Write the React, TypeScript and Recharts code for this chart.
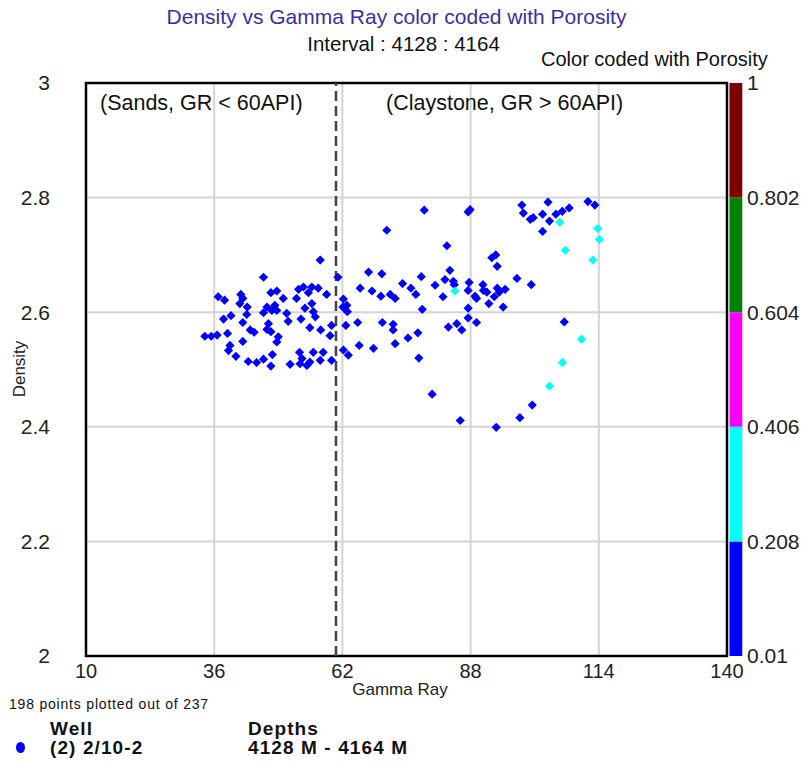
import React from "react";
import {
  ScatterChart,
  Scatter,
  XAxis,
  YAxis,
  CartesianGrid,
  ReferenceLine,
  ReferenceArea,
} from "recharts";

// Gamma Ray (API) and Density (g/cc), low porosity class
const lowPorGR = [
  34.1, 35.4, 36.6, 36.8, 38.1, 37.9, 39.4, 38.7, 39.2, 38.9, 40.4, 41.4, 41.8,
  41.2, 42.7, 42.6, 41.8, 41.8, 43.3, 44.1, 42.9, 44.6, 46.0, 46.0, 47.5, 46.7,
  46.0, 47.7, 47.0, 46.7, 47.5, 47.8, 47.5, 57.5, 61.1, 48.7, 53.1, 54.1, 55.8,
  57.1, 55.1, 52.7, 50.0, 58.8, 55.8, 54.4, 56.1, 56.5, 48.3, 48.7, 50.7, 51.0,
  53.6, 55.4, 57.6, 59.8, 59.5, 49.0, 48.7, 62.2, 62.1, 62.9, 63.0, 62.7, 62.2,
  63.2, 53.3, 56.1, 58.1, 53.8, 55.4, 53.4, 51.4, 54.8, 57.5, 59.8, 67.3, 70.0,
  65.6, 68.0, 69.8, 71.7, 72.7, 74.2, 75.9, 76.9, 78.0, 78.2, 65.1, 70.1, 72.3,
  72.3, 75.3, 77.3, 65.4, 68.3, 72.7, 77.5, 71.0, 78.6, 83.2, 92.3, 93.1, 93.4,
  83.8, 82.8, 84.5, 80.8, 84.7, 87.7, 87.5, 90.5, 90.6, 88.9, 89.2, 91.3, 91.7,
  92.8, 93.4, 93.8, 95.0, 94.6, 82.4, 87.5, 87.5, 89.2, 83.5, 85.2, 86.2, 87.9,
  87.5, 98.4, 103.7, 111.8, 113.2, 98.7, 100.1, 100.7, 102.6, 104.0, 105.3,
  106.6, 108.0, 102.6, 97.4, 100.3, 107.0, 100.5, 98.0, 80.2, 85.9, 93.2,
];
const lowPorDensity = [
  2.558, 2.558, 2.56, 2.627, 2.621, 2.588, 2.594, 2.563, 2.542, 2.533, 2.523,
  2.631, 2.624, 2.615, 2.609, 2.596, 2.582, 2.549, 2.569, 2.565, 2.514, 2.512,
  2.518, 2.661, 2.634, 2.609, 2.599, 2.603, 2.58, 2.57, 2.566, 2.526, 2.506,
  2.691, 2.661, 2.637, 2.64, 2.644, 2.644, 2.642, 2.634, 2.624, 2.624, 2.631,
  2.615, 2.607, 2.601, 2.592, 2.612, 2.603, 2.598, 2.584, 2.588, 2.573, 2.569,
  2.577, 2.559, 2.557, 2.548, 2.623, 2.609, 2.612, 2.601, 2.577, 2.534, 2.525,
  2.53, 2.53, 2.53, 2.519, 2.513, 2.51, 2.509, 2.507, 2.516, 2.516, 2.67, 2.667,
  2.642, 2.637, 2.628, 2.631, 2.624, 2.65, 2.642, 2.631, 2.662, 2.605, 2.582,
  2.582, 2.579, 2.569, 2.555, 2.564, 2.542, 2.537, 2.545, 2.52, 2.743, 2.778,
  2.716, 2.695, 2.7, 2.68, 2.673, 2.657, 2.654, 2.647, 2.648, 2.652, 2.638,
  2.648, 2.638, 2.628, 2.624, 2.635, 2.615, 2.627, 2.642, 2.635, 2.64, 2.609,
  2.627, 2.607, 2.59, 2.582, 2.574, 2.58, 2.569, 2.779, 2.775, 2.787, 2.792,
  2.793, 2.787, 2.773, 2.762, 2.765, 2.771, 2.759, 2.771, 2.776, 2.782, 2.741,
  2.659, 2.648, 2.583, 2.438, 2.416, 2.457, 2.411, 2.399,
];

// porosity 0.208 - 0.406 class
const midPorGR = [84.8, 106.1, 113.8, 114.1, 107.2, 112.8, 110.5, 106.6, 104.0];
const midPorDensity = [2.637, 2.757, 2.746, 2.727, 2.708, 2.691, 2.553, 2.512, 2.471];

const grTicks = [10, 36, 62, 88, 114, 140];
const densityTicks = [2, 2.2, 2.4, 2.6, 2.8, 3];
const porosityTicks = [0.01, 0.208, 0.406, 0.604, 0.802, 1];
const porosityColors = ["#0000ff", "#00ffff", "#ff00ff", "#008000", "#800000"];
const grCutoff = 60.7;

const lowPorData = lowPorGR.map((gr, i) => ({ gr, density: lowPorDensity[i] }));
const midPorData = midPorGR.map((gr, i) => ({ gr, density: midPorDensity[i] }));

const font = "'Liberation Sans', Arial, sans-serif";

const Diamond = (props: any) => {
  const { cx, cy, fill } = props;
  const r = 4.6;
  return (
    <polygon
      points={`${cx},${cy - r} ${cx + r},${cy} ${cx},${cy + r} ${cx - r},${cy}`}
      fill={fill}
    />
  );
};

const boldText = {
  position: "absolute" as const,
  fontSize: 19,
  fontWeight: "bold" as const,
  letterSpacing: 1.1,
  color: "#111",
};

export default function App() {
  return (
    <div
      style={{
        position: "absolute",
        left: 0,
        top: 0,
        width: 807,
        height: 765,
        background: "#fff",
        fontFamily: font,
      }}
    >
      <ScatterChart
        width={807}
        height={765}
        margin={{ top: 83, right: 10, bottom: 79, left: 36 }}
      >
        <CartesianGrid stroke="#d4d4d4" strokeWidth={2} />
        <XAxis
          type="number"
          dataKey="gr"
          domain={[10, 140]}
          ticks={grTicks}
          height={30}
          axisLine={false}
          tickLine={false}
          tickSize={0}
          tickMargin={8}
          tick={{ fill: "#222", fontSize: 20, fontFamily: font }}
        />
        <YAxis
          type="number"
          dataKey="density"
          domain={[2, 3]}
          ticks={densityTicks}
          width={50}
          axisLine={false}
          tickLine={false}
          tickSize={0}
          tickMargin={36}
          tick={{ fill: "#222", fontSize: 21, fontFamily: font }}
        />
        <YAxis
          yAxisId="por"
          orientation="right"
          type="number"
          domain={[0.01, 1]}
          allowDataOverflow
          ticks={porosityTicks}
          interval={0}
          width={70}
          axisLine={false}
          tickLine={false}
          tickSize={0}
          tickMargin={20}
          tick={{ fill: "#222", fontSize: 21, fontFamily: font, textAnchor: "start" }}
        />
        {porosityColors.map((c, i) => (
          <ReferenceArea
            key={c}
            yAxisId="por"
            x1={140.5}
            x2={143.1}
            y1={porosityTicks[i]}
            y2={porosityTicks[i + 1]}
            fill={c}
            fillOpacity={1}
            stroke="none"
            ifOverflow="visible"
          />
        ))}
        <ReferenceArea
          x1={10}
          x2={140}
          y1={2}
          y2={3}
          fill="none"
          stroke="#000"
          strokeWidth={2.5}
          ifOverflow="visible"
        />
        <ReferenceLine
          x={grCutoff}
          stroke="#444"
          strokeWidth={2.5}
          strokeDasharray="10 5"
        />
        <Scatter
          data={lowPorData}
          fill="#0000ff"
          shape={<Diamond />}
          isAnimationActive={false}
        />
        <Scatter
          data={midPorData}
          fill="#00ffff"
          shape={<Diamond />}
          isAnimationActive={false}
        />
      </ScatterChart>

      <div
        style={{
          position: "absolute",
          top: 5,
          left: 0,
          width: 793,
          textAlign: "center",
          fontSize: 21,
          color: "#3a2fa0",
        }}
      >
        Density vs Gamma Ray color coded with Porosity
      </div>
      <div
        style={{
          position: "absolute",
          top: 32,
          left: 0,
          width: 807,
          textAlign: "center",
          fontSize: 20.5,
          color: "#111",
        }}
      >
        Interval : 4128 : 4164
      </div>
      <div
        style={{ position: "absolute", top: 48, left: 541, fontSize: 20, color: "#111" }}
      >
        Color coded with Porosity
      </div>
      <div
        style={{ position: "absolute", top: 91, left: 100, fontSize: 21.5, color: "#111" }}
      >
        (Sands, GR &lt; 60API)
      </div>
      <div
        style={{ position: "absolute", top: 91, left: 386, fontSize: 21.5, color: "#111" }}
      >
        (Claystone, GR &gt; 60API)
      </div>
      <div
        style={{
          position: "absolute",
          left: -13,
          top: 359,
          width: 66,
          textAlign: "center",
          transform: "rotate(-90deg)",
          fontSize: 17,
          color: "#222",
        }}
      >
        Density
      </div>
      <div
        style={{
          position: "absolute",
          top: 680,
          left: 0,
          width: 800,
          textAlign: "center",
          fontSize: 17,
          color: "#222",
        }}
      >
        Gamma Ray
      </div>
      <div
        style={{
          position: "absolute",
          top: 696,
          left: 9,
          fontSize: 14,
          letterSpacing: 0.8,
          color: "#111",
        }}
      >
        198 points plotted out of 237
      </div>
      <div style={{ ...boldText, top: 718, left: 50 }}>Well</div>
      <div style={{ ...boldText, top: 718, left: 248 }}>Depths</div>
      <div
        style={{
          position: "absolute",
          top: 742,
          left: 16,
          width: 9,
          height: 11,
          borderRadius: "50%",
          background: "#0000ff",
        }}
      />
      <div style={{ ...boldText, top: 737, left: 50 }}>(2) 2/10-2</div>
      <div style={{ ...boldText, top: 737, left: 248 }}>4128 M - 4164 M</div>
    </div>
  );
}
